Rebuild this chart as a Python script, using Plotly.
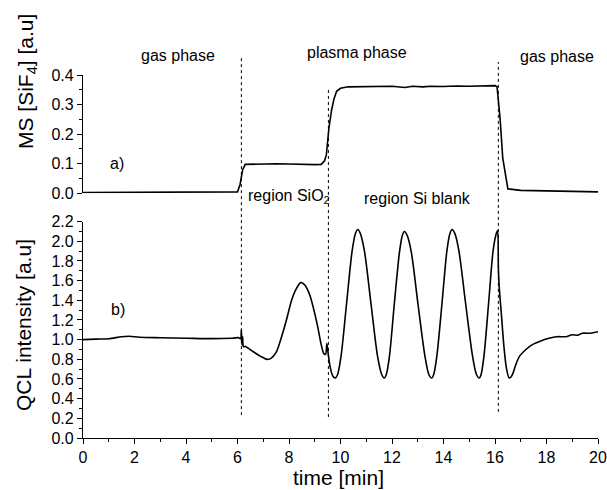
import plotly.graph_objects as go

# ---- data ----
ms_time = [0.0, 3.0, 5.9, 6.0, 6.1, 6.2, 6.3, 7.0, 7.5, 8.0, 8.5, 9.0, 9.25, 9.38, 9.45,
           9.55, 9.65, 9.75, 9.85, 10.0, 10.3, 11.0, 11.5, 12.0, 12.5, 12.8, 13.2, 13.5,
           14.0, 14.5, 15.0, 15.5, 16.0, 16.08, 16.2, 16.3, 16.4, 16.5, 17.0, 18.0, 19.0, 20.0]
ms_sif4 = [0.003, 0.003, 0.003, 0.005, 0.03, 0.08, 0.098, 0.1, 0.1, 0.099, 0.097, 0.097, 0.098,
           0.11, 0.13, 0.22, 0.28, 0.32, 0.345, 0.355, 0.36, 0.36, 0.362, 0.362, 0.358, 0.362,
           0.36, 0.362, 0.361, 0.363, 0.362, 0.364, 0.364, 0.36, 0.25, 0.12, 0.06, 0.015, 0.01,
           0.008, 0.007, 0.005]

qcl_time = [0.0, 0.5, 1.0, 1.5, 1.8, 2.2, 3.0, 4.0, 5.0, 5.8, 6.05, 6.12, 6.15, 6.17, 6.2, 6.23,
            6.3, 6.6, 6.9, 7.15, 7.3, 7.5, 7.7, 7.9, 8.1, 8.25, 8.45, 8.6, 8.8, 8.95, 9.1, 9.25,
            9.35, 9.42, 9.47, 9.52, 9.6, 9.7, 9.8,
            9.887, 10.02, 10.235, 10.45, 10.58, 10.67,
            10.77, 10.93, 11.185, 11.44, 11.6, 11.7,
            11.78, 11.9, 12.09, 12.29, 12.4, 12.48,
            12.59, 12.75, 13.01, 13.28, 13.43, 13.54,
            13.62, 13.74, 13.94, 14.13, 14.25, 14.33,
            14.44, 14.6, 14.86, 15.13, 15.28, 15.39,
            15.46, 15.57, 15.75, 15.92, 16.03, 16.1,
            16.13, 16.16, 16.25, 16.35, 16.45, 16.55, 16.62, 16.7, 16.8, 16.95, 17.2, 17.45,
            17.8, 18.1, 18.4, 18.75, 19.0, 19.2, 19.4, 19.7, 20.0]
qcl_int = [1.0, 1.005, 1.01, 1.03, 1.035, 1.025, 1.02, 1.015, 1.01, 1.015, 1.02, 1.01, 1.10, 0.95,
           1.03, 0.93, 0.93, 0.88, 0.83, 0.80, 0.81, 0.87, 1.02, 1.20, 1.40, 1.50, 1.58, 1.56,
           1.46, 1.32, 1.15, 0.95, 0.86, 0.85, 0.96, 0.86, 0.72, 0.63, 0.61,
           0.646, 0.83, 1.365, 1.90, 2.08, 2.12,
           2.08, 1.90, 1.365, 0.83, 0.646, 0.61,
           0.646, 0.83, 1.365, 1.89, 2.06, 2.10,
           2.06, 1.89, 1.36, 0.83, 0.646, 0.61,
           0.646, 0.83, 1.365, 1.90, 2.08, 2.12,
           2.08, 1.90, 1.365, 0.83, 0.646, 0.61,
           0.646, 0.83, 1.365, 1.89, 2.06, 2.11,
           1.75, 1.55, 1.25, 0.92, 0.70, 0.61, 0.62, 0.66, 0.74, 0.83, 0.90, 0.95,
           0.99, 1.015, 1.03, 1.03, 1.05, 1.045, 1.065, 1.065, 1.08]

boundary_times = [6.15, 9.53, 16.13]
x_ticks = [0, 2, 4, 6, 8, 10, 12, 14, 16, 18, 20]

FONT = "Liberation Sans, Arial, sans-serif"

fig = go.Figure()
fig.add_trace(go.Scatter(x=ms_time, y=ms_sif4, mode="lines", xaxis="x", yaxis="y2",
                         line=dict(color="black", width=1.6), showlegend=False))
fig.add_trace(go.Scatter(x=qcl_time, y=qcl_int, mode="lines", xaxis="x", yaxis="y",
                         line=dict(color="black", width=1.6, shape="spline", smoothing=0.8),
                         showlegend=False))

# dotted boundary lines (paper y extents)
line_extents = [(1.05, 0.063), (0.967, 0.058), (1.036, 0.072)]
for t, (ytop, ybot) in zip(boundary_times, line_extents):
    fig.add_shape(type="line", xref="x", yref="paper", x0=t, x1=t, y0=ybot, y1=ytop,
                  line=dict(color="black", width=1, dash="dot"))

axis_common = dict(showgrid=False, zeroline=False, showline=True, linecolor="black",
                   linewidth=1.2, ticks="outside", ticklen=5, tickwidth=1.2, tickcolor="black",
                   automargin=False,
                   tickfont=dict(family=FONT, size=16, color="black"))

fig.update_layout(
    template="none",
    width=607, height=490,
    margin=dict(l=83, r=9, t=75, b=52),
    plot_bgcolor="white", paper_bgcolor="white",
    font=dict(family=FONT, color="black"),
    xaxis=dict(domain=[0, 1], range=[0, 20], anchor="y", tickvals=x_ticks,
               minor=dict(dtick=1, ticks="outside", ticklen=3, tickcolor="black"),
               **axis_common),
    yaxis=dict(domain=[0, 0.596], range=[0, 2.2], anchor="x", dtick=0.2, tickformat=".1f",
               minor=dict(dtick=0.1, ticks="outside", ticklen=3, tickcolor="black"),
               **axis_common),
    yaxis2=dict(domain=[0.674, 1], range=[0, 0.4], anchor="x", dtick=0.1, tickformat=".1f",
                minor=dict(dtick=0.05, ticks="outside", ticklen=3, tickcolor="black"),
                **axis_common),
)

ann_font = dict(family=FONT, size=16, color="black")
title_font = dict(family=FONT, size=21, color="black")
annotations = [
    dict(text="gas phase", x=0.184, y=1.055),
    dict(text="plasma phase", x=0.532, y=1.063),
    dict(text="gas phase", x=0.920, y=1.052),
    dict(text="a)", x=0.066, y=0.755),
    dict(text="region SiO<sub>2</sub>", x=0.317, y=0.665, xanchor="left"),
    dict(text="region Si blank", x=0.650, y=0.660),
    dict(text="b)", x=0.068, y=0.353),
]
for a in annotations:
    fig.add_annotation(xref="paper", yref="paper", showarrow=False, font=ann_font,
                       xanchor=a.get("xanchor", "center"), yanchor="middle",
                       text=a["text"], x=a["x"], y=a["y"])

fig.add_annotation(xref="paper", yref="paper", showarrow=False, font=title_font,
                   text="MS [SiF<sub>4</sub>] [a.u]", textangle=-90,
                   x=(27 - 83) / 515, y=(438 - 82) / 363, xanchor="center", yanchor="middle")
fig.add_annotation(xref="paper", yref="paper", showarrow=False, font=title_font,
                   text="QCL intensity [a.u]", textangle=-90,
                   x=(23 - 83) / 515, y=(438 - 325) / 363, xanchor="center", yanchor="middle")
fig.add_annotation(xref="paper", yref="paper", showarrow=False, font=title_font,
                   text="time [min]", x=(338 - 83) / 515, y=(438 - 477.7) / 363,
                   xanchor="center", yanchor="middle")

fig.write_html("out.html")
